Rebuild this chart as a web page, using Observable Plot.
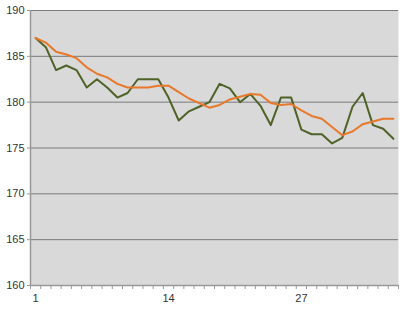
<!DOCTYPE html>
<html>
<head>
<meta charset="utf-8">
<script src="https://cdn.jsdelivr.net/npm/d3@7"></script>
<script src="https://cdn.jsdelivr.net/npm/@observablehq/plot@0.6"></script>
<style>
  html, body { margin: 0; padding: 0; background: #fff; }
</style>
</head>
<body>
<div id="chart"></div>
<script>
const days = d3.range(1, 37);
const seriesA = [187.0, 186.0, 183.5, 184.0, 183.5, 181.6, 182.5, 181.6, 180.5, 181.0,
                 182.5, 182.5, 182.5, 180.5, 178.0, 179.0, 179.5, 180.0, 182.0, 181.5,
                 180.0, 180.9, 179.6, 177.5, 180.5, 180.5, 177.0, 176.5, 176.5, 175.5,
                 176.1, 179.5, 181.0, 177.5, 177.1, 176.0];
const seriesB = [187.0, 186.5, 185.5, 185.2, 184.8, 183.8, 183.1, 182.7, 182.0, 181.6,
                 181.6, 181.6, 181.8, 181.8, 181.1, 180.4, 179.9, 179.4, 179.7, 180.3,
                 180.6, 180.9, 180.8, 179.9, 179.7, 179.8, 179.1, 178.5, 178.2, 177.3,
                 176.4, 176.8, 177.6, 177.9, 178.2, 178.2];
const xLabels = [1, 14, 27];
const yTicks = [160, 165, 170, 175, 180, 185, 190];

const dataA = days.map((d, i) => ({x: d, y: seriesA[i]}));
const dataB = days.map((d, i) => ({x: d, y: seriesB[i]}));
const catEdges = d3.range(0, 37).map(i => i + 0.5);

const chart = Plot.plot({
  width: 400,
  height: 310,
  marginLeft: 30,
  marginRight: 2,
  marginTop: 10,
  marginBottom: 25,
  style: {fontFamily: "Liberation Sans, Arial, sans-serif", fontSize: "11px", color: "#333", background: "#fff"},
  x: {domain: [0.5, 36.5]},
  y: {domain: [160, 190]},
  marks: [
    Plot.frame({fill: "#d9d9d9", stroke: null}),
    Plot.ruleY(yTicks.slice(1), {stroke: "#7a7a7a", strokeWidth: 1}),
    Plot.ruleX([0.5], {stroke: "#999", strokeWidth: 1.5}),
    Plot.ruleY([160], {stroke: "#999", strokeWidth: 1.5}),
    Plot.axisY({ticks: yTicks, tickSize: 3, tickPadding: 3, stroke: "#999", fill: "#333", label: null}),
    Plot.axisX({ticks: catEdges, tickSize: 4, tickFormat: () => "", stroke: "#999", label: null}),
    Plot.axisX({ticks: xLabels, tickSize: 0, tickPadding: 9, fill: "#333", label: null}),
    Plot.line(dataA, {x: "x", y: "y", stroke: "#4f6228", strokeWidth: 2}),
    Plot.line(dataB, {x: "x", y: "y", stroke: "#e8782a", strokeWidth: 2})
  ]
});
document.getElementById("chart").appendChild(chart);
</script>
</body>
</html>
